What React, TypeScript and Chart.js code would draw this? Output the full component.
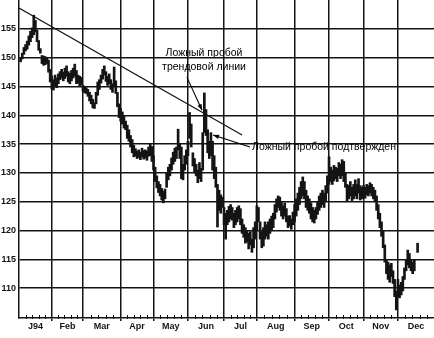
import React, { useEffect, useRef } from 'react';
import { Chart, registerables } from 'chart.js';

Chart.register(...registerables);

// trading-day index of the first bar
const FIRST_DAY = 1;

const lows: (number | null)[] = [
  149.3, 149.8, 150.6, 151.2, 151.5, 152.2, 152.8, 153.5, 154.0, 154.5,
  152.8, 151.3, 150.8, 149.0, 148.7, 148.8, 149.0, 147.5, 145.8, 144.6,
  144.4, 145.0, 144.8, 145.5, 146.2, 146.5, 146.0, 146.4, 146.8, 145.8,
  145.5, 146.0, 146.5, 146.8, 145.5, 145.6, 145.0, 145.3, 144.2, 143.9,
  143.8, 143.3, 142.5, 142.0, 141.3, 141.2, 142.0, 143.5, 144.5, 145.6,
  146.3, 147.0, 145.9, 145.2, 145.5, 144.5, 144.0, 145.0, 143.8, 141.5,
  139.6, 139.0, 138.5, 137.8, 137.5, 136.0, 135.5, 134.5, 133.5, 132.8,
  132.9, 132.5, 132.7, 132.3, 132.8, 132.4, 132.6, 132.2, 132.9, 133.0,
  132.0, 130.5, 128.5, 127.4, 126.6, 126.0, 125.3, 124.8, 125.5, 127.5,
  128.8, 129.5, 130.5, 131.5, 132.0, 132.5, 134.0, 132.5, 129.0, 128.8,
  130.5, 131.5, 133.0, 136.0, 134.5, 131.2, 130.0, 129.5, 128.3, 129.0,
  128.5, 130.5, 137.0, 136.5, 133.5, 132.5, 133.0, 130.5, 129.0, 127.5,
  120.6, 123.5, 123.0, 124.0, 121.0, 118.5, 121.0, 121.5, 122.0, 121.8,
  120.5, 121.0, 121.5, 122.0, 121.0, 119.5, 118.8, 117.8, 118.0, 116.8,
  117.5, 116.2, 117.0, 118.5, 120.0, 121.5, 118.5, 117.0, 117.3, 118.5,
  119.0, 118.5, 119.5, 120.0, 120.5, 122.0, 123.2, 124.0, 123.5, 122.5,
  122.0, 122.5, 121.5, 120.5, 120.8, 120.2, 121.0, 121.5, 122.5, 123.5,
  124.5, 125.5, 126.0, 125.5, 124.0, 123.5, 123.0, 122.0, 121.5, 121.3,
  122.0, 122.8, 123.5, 124.0, 124.5, 124.0, 125.0, 126.5, 128.0, 128.5,
  128.0, 128.6, 129.0, 128.5, 129.5, 129.0, 129.5, 128.5, 127.5, 125.0,
  125.5, 126.0, 125.2, 125.5, 126.0, 125.5, 126.5, 125.3, 125.5, 126.0,
  125.6, 126.2, 126.0, 126.5, 126.0, 125.5, 125.0, 123.5, 122.0, 120.5,
  119.0, 117.0, 114.5, 112.5, 111.5, 111.0, 112.0, 110.8, 108.5, 106.2,
  108.5, 108.3, 108.8, 109.5, 111.5, 113.0, 114.0, 113.5, 113.0, 112.5,
  113.0, null, 116.2,
];

const highs: (number | null)[] = [
  150.0, 150.8, 151.8, 152.3, 152.9, 153.8, 154.6, 155.2, 157.4, 156.5,
  154.8, 153.0, 151.6, 150.4, 150.3, 150.2, 150.0, 149.6, 148.0, 146.8,
  146.2, 147.0, 146.5, 147.2, 147.6, 148.0, 147.5, 148.2, 148.6, 147.6,
  147.3, 147.8, 148.2, 148.9, 147.8, 147.0, 146.8, 146.6, 145.2, 144.9,
  144.8, 144.5, 144.0, 143.5, 142.8, 142.2, 144.0, 145.8, 146.2, 147.0,
  148.0, 148.6, 147.6, 146.8, 147.2, 146.2, 145.5, 148.4, 146.0, 144.0,
  142.0, 141.2, 140.6, 139.8, 139.0, 138.3, 137.5, 136.5, 135.8, 134.8,
  134.2, 133.8, 134.0, 133.6, 134.3, 133.9, 134.0, 133.8, 134.5, 135.0,
  134.6, 133.0, 131.0, 129.5, 128.5, 128.0, 127.3, 126.8, 127.2, 130.0,
  131.0, 131.5, 132.6, 133.6, 134.3, 134.5, 137.6, 135.0, 134.5, 131.5,
  133.0, 134.0, 135.5, 140.5, 138.5, 133.5, 132.5, 131.5, 130.5, 131.8,
  130.8, 137.0, 143.9, 141.0, 137.5, 135.5, 137.0, 135.5, 133.0, 131.0,
  128.0, 127.0, 126.2, 125.8, 124.0, 123.0, 123.5, 124.2, 124.5, 124.0,
  123.0, 123.5, 124.0, 124.3, 123.8, 122.0, 121.0, 120.5, 120.0, 119.5,
  119.8, 118.5, 120.5, 121.5, 124.3, 124.0, 121.5, 119.8, 120.5, 121.5,
  121.0, 121.5, 122.0, 122.5, 123.0, 124.5, 125.5, 126.0, 125.8, 125.0,
  124.3, 124.8, 123.8, 122.5, 122.6, 122.0, 123.2, 124.5, 125.5, 126.5,
  127.5, 128.5, 129.3, 128.5, 127.0, 126.0, 125.5, 124.8, 124.0, 123.5,
  124.0, 125.0, 126.0, 126.5, 127.0, 126.5, 127.8, 129.5, 132.8, 131.0,
  130.5, 131.3, 131.0, 130.8, 131.8, 131.5, 132.3, 132.0, 130.0, 128.0,
  127.8, 128.5, 127.5, 128.0, 128.8, 128.0, 129.0, 127.8, 127.5, 127.8,
  127.5, 128.0, 127.8, 128.3, 128.0, 127.5, 127.0, 126.0, 124.5, 123.0,
  121.5, 120.0, 117.5, 115.0, 114.5, 114.0, 114.3, 113.0, 111.5, 109.5,
  111.5, 110.5, 111.0, 112.0, 113.5, 115.0, 116.6, 116.0, 115.0, 114.5,
  115.0, null, 117.8,
];

const monthLabels = ['J94', 'Feb', 'Mar', 'Apr', 'May', 'Jun', 'Jul', 'Aug', 'Sep', 'Oct', 'Nov', 'Dec'];
// month boundaries in trading days
const monthStarts = [0, 20, 39, 62, 82, 103, 125, 145, 168, 189, 210, 231, 253];
const yTicks = [110, 115, 120, 125, 130, 135, 140, 145, 150, 155];
const Y_MIN = 104.8;
const Y_MAX = 160.04;

// trend line endpoints (trading day, price)
const trendX = [0, 136];
const trendY = [158.65, 136.6];

// annotations (trading day, price)
const note1Lines = ['Ложный пробой', 'трендовой линии'];
const note1X = 112.8;
const note1Y = [150.83, 148.4];
const arrow1 = { fromX: 102.4, fromY: 146.6, toX: 111.6, toY: 140.9 };
const note2 = 'Ложный пробой подтвержден';
const note2X = 142.1;
const note2Y = 134.5;
const arrow2 = { fromX: 140.8, fromY: 134.5, toX: 118.3, toY: 136.6 };

const INK = '#141414';
const FONT = '"Liberation Sans", Arial, sans-serif';

const boundarySet = new Set(monthStarts.slice(1, -1));
const centerLabel = new Map<number, string>();
monthLabels.forEach((m, i) => centerLabel.set((monthStarts[i] + monthStarts[i + 1]) / 2, m));

function drawArrow(ctx: CanvasRenderingContext2D, x1: number, y1: number, x2: number, y2: number) {
  ctx.beginPath();
  ctx.moveTo(x1, y1);
  ctx.lineTo(x2, y2);
  ctx.stroke();
  const a = Math.atan2(y2 - y1, x2 - x1);
  const len = 6;
  const w = 2.2;
  ctx.beginPath();
  ctx.moveTo(x2, y2);
  ctx.lineTo(x2 - len * Math.cos(a) + w * Math.sin(a), y2 - len * Math.sin(a) - w * Math.cos(a));
  ctx.lineTo(x2 - len * Math.cos(a) - w * Math.sin(a), y2 - len * Math.sin(a) + w * Math.cos(a));
  ctx.closePath();
  ctx.fill();
}

const notesPlugin = {
  id: 'notes',
  afterDraw(chart: any) {
    const { ctx, scales } = chart;
    const x = scales.x;
    const y = scales.y;
    ctx.save();
    // minor weekly ticks on the time axis
    ctx.strokeStyle = INK;
    ctx.lineWidth = 1;
    const bottom = chart.chartArea.bottom;
    for (let i = 0; i < monthStarts.length - 1; i++) {
      const s = monthStarts[i];
      const e = monthStarts[i + 1];
      for (let k = 1; k <= 4; k++) {
        const px = Math.round(x.getPixelForValue(s + ((e - s) * k) / 5)) + 0.5;
        ctx.beginPath();
        ctx.moveTo(px, bottom - 3);
        ctx.lineTo(px, bottom + 1);
        ctx.stroke();
      }
    }
    ctx.fillStyle = '#000';
    ctx.font = `10.5px ${FONT}`;
    ctx.textAlign = 'center';
    ctx.textBaseline = 'middle';
    note1Lines.forEach((t, i) => {
      ctx.fillText(t, x.getPixelForValue(note1X), y.getPixelForValue(note1Y[i]));
    });
    ctx.textAlign = 'left';
    ctx.fillText(note2, x.getPixelForValue(note2X), y.getPixelForValue(note2Y));
    ctx.strokeStyle = '#000';
    ctx.lineWidth = 1.1;
    drawArrow(ctx, x.getPixelForValue(arrow1.fromX), y.getPixelForValue(arrow1.fromY),
      x.getPixelForValue(arrow1.toX), y.getPixelForValue(arrow1.toY));
    drawArrow(ctx, x.getPixelForValue(arrow2.fromX), y.getPixelForValue(arrow2.fromY),
      x.getPixelForValue(arrow2.toX), y.getPixelForValue(arrow2.toY));
    ctx.restore();
  },
};

export default function App() {
  const ref = useRef<HTMLCanvasElement>(null);

  useEffect(() => {
    if (!ref.current) return;
    const bars = lows
      .map((lo, i) => ({ x: FIRST_DAY + i, lo, hi: highs[i] }))
      .filter((d) => d.lo !== null && d.hi !== null)
      .map((d) => ({ x: d.x, y: [d.lo as number, d.hi as number] }));
    const trend = trendX.map((v, i) => ({ x: v, y: trendY[i] }));

    const chart = new Chart(ref.current, {
      type: 'bar',
      data: {
        datasets: [
          {
            type: 'line',
            data: trend,
            borderColor: INK,
            borderWidth: 1.2,
            pointRadius: 0,
            fill: false,
          } as any,
          {
            type: 'bar',
            data: bars as any,
            backgroundColor: INK,
            borderWidth: 0,
            barThickness: 2,
            grouped: false,
          } as any,
        ],
      },
      options: {
        animation: false,
        responsive: false,
        events: [],
        layout: { padding: 0 },
        plugins: { legend: { display: false }, tooltip: { enabled: false } },
        scales: {
          x: {
            type: 'linear',
            min: 0,
            max: 253,
            offset: false,
            afterBuildTicks: (scale: any) => {
              const vals = [
                ...monthStarts.slice(1, -1),
                ...Array.from(centerLabel.keys()),
              ].sort((a, b) => a - b);
              scale.ticks = vals.map((v) => ({ value: v }));
            },
            afterFit: (scale: any) => {
              scale.height = 20;
              scale.paddingLeft = 0;
              scale.paddingRight = 0;
            },
            grid: {
              offset: false,
              color: (c: any) => (c.tick && boundarySet.has(c.tick.value) ? INK : 'rgba(0,0,0,0)'),
              tickColor: (c: any) => (c.tick && boundarySet.has(c.tick.value) ? INK : 'rgba(0,0,0,0)'),
              lineWidth: 1.5,
              tickLength: 3,
            },
            border: { display: true, color: INK, width: 1.5 },
            ticks: {
              autoSkip: false,
              maxRotation: 0,
              padding: 0,
              color: INK,
              font: { family: FONT, size: 9, weight: 'bold' },
              callback: (v: any) => centerLabel.get(Number(v)) ?? '',
            },
          },
          y: {
            type: 'linear',
            min: Y_MIN,
            max: Y_MAX,
            afterBuildTicks: (scale: any) => {
              scale.ticks = yTicks.map((v) => ({ value: v }));
            },
            afterFit: (scale: any) => {
              scale.width = 19;
              scale.paddingTop = 0;
              scale.paddingBottom = 0;
            },
            grid: { color: INK, lineWidth: 1.5, drawTicks: false },
            border: { display: true, color: INK, width: 1.5 },
            ticks: {
              padding: 3,
              color: INK,
              font: { family: FONT, size: 9, weight: 'bold' },
              callback: (v: any) => String(v),
            },
          },
        },
      },
      plugins: [notesPlugin],
    });
    return () => chart.destroy();
  }, []);

  return (
    <div style={{ position: 'fixed', left: 0, top: 0, width: 434, height: 338, background: '#fff' }}>
      <canvas ref={ref} width={434} height={338} />
    </div>
  );
}
